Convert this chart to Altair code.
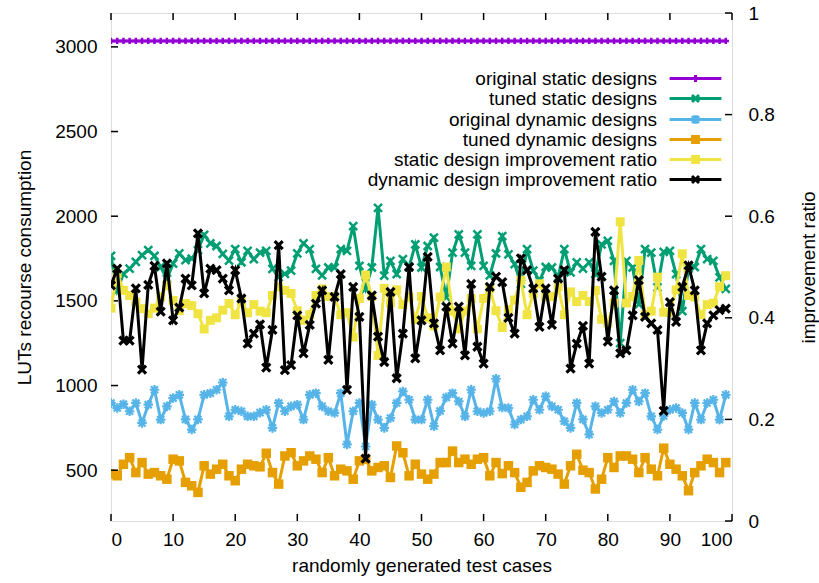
import altair as alt
import pandas as pd

idx = list(range(100))
series_names = ["original static designs", "tuned static designs", "original dynamic designs",
                "tuned dynamic designs", "static design improvement ratio", "dynamic design improvement ratio"]
colors = ["#9400d3", "#009e73", "#56b4e9", "#e69f00", "#f0e442", "#000000"]

x_ticks = [0, 10, 20, 30, 40, 50, 60, 70, 80, 90, 100]
left_ticks = [500, 1000, 1500, 2000, 2500, 3000]
right_ticks = [0, 0.2, 0.4, 0.6, 0.8, 1]

orig_static = [3035] * 100
tuned_static = [1766, 1560, 1660, 1690, 1730, 1770, 1800, 1766, 1700, 1630,
                1720, 1780, 1740, 1750, 1800, 1890, 1840, 1824, 1777, 1738,
                1806, 1728, 1795, 1746, 1785, 1795, 1689, 1640, 1660, 1678,
                1780, 1840, 1805, 1689, 1650, 1697, 1697, 1805, 1795, 1941,
                1707, 1570, 1697, 2049, 1649, 1736, 1658, 1746, 1700, 1834,
                1697, 1824, 1873, 1700, 1521, 1785, 1892, 1785, 1707, 1892,
                1707, 1650, 1780, 1883, 1775, 1717, 1600, 1805, 1678, 1620,
                1700, 1697, 1640, 1805, 1668, 1727, 1690, 1727, 1660, 1834,
                1854, 1736, 1250, 1736, 1697, 1480, 1805, 1785, 1580, 1790,
                1795, 1658, 1440, 1690, 1700, 1805, 1746, 1736, 1639, 1571]
orig_dynamic = [897, 867, 890, 848, 897, 779, 887, 975, 799, 877,
                926, 945, 800, 740, 800, 945, 955, 975, 1018, 818,
                857, 848, 818, 818, 840, 857, 750, 897, 848, 877,
                887, 799, 945, 955, 877, 848, 838, 955, 652, 848,
                897, 640, 887, 799, 750, 808, 897, 965, 916, 799,
                799, 916, 760, 850, 930, 955, 906, 818, 975, 848,
                838, 848, 1040, 870, 867, 770, 799, 818, 916, 857,
                936, 877, 857, 789, 750, 897, 800, 711, 877, 838,
                857, 906, 838, 897, 975, 906, 955, 818, 740, 820,
                857, 867, 838, 740, 897, 799, 897, 916, 799, 945]
tuned_dynamic = [477, 467, 535, 574, 486, 545, 477, 486, 467, 447,
                 565, 555, 428, 408, 369, 526, 477, 506, 535, 467,
                 438, 506, 535, 526, 520, 600, 486, 418, 584, 603,
                 526, 555, 584, 565, 486, 574, 467, 506, 496, 447,
                 555, 565, 496, 516, 526, 457, 643, 603, 467, 535,
                 477, 447, 477, 545, 545, 613, 545, 565, 535, 565,
                 574, 467, 545, 480, 526, 486, 399, 428, 496, 526,
                 516, 506, 477, 418, 526, 594, 500, 486, 389, 447,
                 574, 516, 584, 584, 565, 486, 574, 506, 467, 630,
                 535, 506, 467, 379, 486, 526, 565, 545, 486, 545]
static_ratio = [0.419, 0.487, 0.454, 0.444, 0.431, 0.418, 0.408, 0.419, 0.441, 0.464,
                0.434, 0.414, 0.428, 0.424, 0.408, 0.378, 0.395, 0.400, 0.415, 0.428,
                0.406, 0.432, 0.410, 0.426, 0.413, 0.410, 0.444, 0.461, 0.454, 0.448,
                0.414, 0.395, 0.406, 0.444, 0.457, 0.442, 0.442, 0.406, 0.410, 0.362,
                0.438, 0.484, 0.442, 0.326, 0.458, 0.429, 0.455, 0.426, 0.441, 0.397,
                0.442, 0.400, 0.384, 0.441, 0.500, 0.413, 0.378, 0.413, 0.438, 0.378,
                0.438, 0.457, 0.414, 0.381, 0.416, 0.435, 0.474, 0.406, 0.448, 0.467,
                0.441, 0.442, 0.461, 0.406, 0.451, 0.432, 0.444, 0.432, 0.454, 0.397,
                0.390, 0.429, 0.589, 0.429, 0.442, 0.513, 0.406, 0.413, 0.480, 0.411,
                0.410, 0.455, 0.526, 0.444, 0.441, 0.406, 0.426, 0.429, 0.461, 0.483]
dynamic_ratio = [0.464, 0.497, 0.355, 0.355, 0.458, 0.298, 0.465, 0.502, 0.412, 0.507,
                 0.395, 0.420, 0.477, 0.464, 0.566, 0.448, 0.497, 0.494, 0.477, 0.454,
                 0.494, 0.438, 0.349, 0.369, 0.387, 0.302, 0.376, 0.543, 0.297, 0.307,
                 0.405, 0.330, 0.386, 0.428, 0.454, 0.317, 0.441, 0.486, 0.258, 0.461,
                 0.402, 0.123, 0.444, 0.363, 0.313, 0.451, 0.281, 0.369, 0.500, 0.320,
                 0.395, 0.520, 0.389, 0.336, 0.422, 0.349, 0.422, 0.326, 0.467, 0.343,
                 0.310, 0.461, 0.481, 0.470, 0.400, 0.369, 0.517, 0.494, 0.458, 0.382,
                 0.458, 0.386, 0.477, 0.494, 0.300, 0.349, 0.384, 0.310, 0.569, 0.481,
                 0.353, 0.454, 0.330, 0.336, 0.405, 0.474, 0.402, 0.389, 0.376, 0.217,
                 0.431, 0.392, 0.461, 0.503, 0.454, 0.336, 0.389, 0.405, 0.415, 0.418]

all_values = [orig_static, tuned_static, orig_dynamic, tuned_dynamic, static_ratio, dynamic_ratio]

FONT = "Liberation Sans"
FS = 19
W, H = 621, 508

# marker shapes (gnuplot-like point types)
P_PLUS = "M0,-1V1M-1,0H1"
P_X = "M-1,-1L1,1M-1,1L1,-1"
P_STAR = "M-1,-1L1,1M-1,1L1,-1M0,-1.35V1.35M-1.35,0H1.35"
marker_spec = [
    dict(shape=P_PLUS, filled=False, size=40, strokeWidth=2.5),
    dict(shape=P_X, filled=False, size=64, strokeWidth=2.5),
    dict(shape=P_STAR, filled=False, size=50, strokeWidth=2.2),
    dict(shape="square", filled=True, size=90),
    dict(shape="square", filled=True, size=80),
    dict(shape=P_X, filled=False, size=64, strokeWidth=3.2),
]
# legend samples: a line with the marker in its middle
legend_paths = [
    "M-3.7,0H3.7M0,-0.5V0.5",
    "M-3.7,0H3.7M-0.5,-0.5L0.5,0.5M-0.5,0.5L0.5,-0.5",
    "M-3.7,0H3.7M-0.5,-0.5L0.5,0.5M-0.5,0.5L0.5,-0.5M0,-0.62V0.62",
    "M-3.7,0H3.7M-0.42,-0.42H0.42V0.42H-0.42Z",
    "M-3.7,0H3.7M-0.42,-0.42H0.42V0.42H-0.42Z",
    "M-3.7,0H3.7M-0.5,-0.5L0.5,0.5M-0.5,0.5L0.5,-0.5",
]

legend_def = alt.Legend(title=None, orient="none", legendX=575, legendY=56,
                        labelFontSize=FS, labelFont=FONT, labelColor="black",
                        labelAlign="right", labelOffset={"expr": "-48"}, labelLimit=0,
                        symbolSize=196, symbolStrokeWidth=3, symbolOpacity=1,
                        rowPadding=0, padding=0)
color_enc = alt.Color("series:N", scale=alt.Scale(domain=series_names, range=colors),
                      legend=legend_def)

x_enc = alt.X("i:Q", scale=alt.Scale(domain=[0, 100], nice=False, zero=False),
              axis=alt.Axis(values=x_ticks, format="d", ticks=False, tickSize=0, domain=False,
                            grid=False, labelFontSize=FS, labelFont=FONT, labelColor="black",
                            labelPadding=9, title="randomly generated test cases",
                            titleFontSize=FS, titleFont=FONT, titleFontWeight="normal",
                            titleColor="black", titlePadding=7))

left_axis = alt.Axis(values=left_ticks, format="d", ticks=False, tickSize=0, domain=False,
                     grid=False, labelFontSize=FS, labelFont=FONT, labelColor="black",
                     labelPadding=14, title="LUTs recourse consumption", titleFontSize=FS,
                     titleFont=FONT, titleFontWeight="normal", titleColor="black",
                     titleAngle=270, titleX=-87, titleY=H / 2, titleAlign="center",
                     titleBaseline="middle", orient="left")
right_axis = alt.Axis(values=right_ticks, format="~g", ticks=False, tickSize=0, domain=False,
                      grid=False, labelFontSize=FS, labelFont=FONT, labelColor="black",
                      labelPadding=16, title="improvement ratio", titleFontSize=FS,
                      titleFont=FONT, titleFontWeight="normal", titleColor="black",
                      titleAngle=270, titleX=76, titleY=H / 2, titleAlign="center",
                      titleBaseline="middle", orient="right")

left_scale = alt.Scale(domain=[200, 3200], nice=False, zero=False)
right_scale = alt.Scale(domain=[0, 1], nice=False, zero=False)


def series_layers(k, scale, axis):
    df = pd.DataFrame({"i": idx, "v": all_values[k], "series": series_names[k]})
    y_enc = alt.Y("v:Q", scale=scale, axis=axis)
    base = alt.Chart(df)
    line = base.mark_line(strokeWidth=3, clip=True).encode(x=x_enc, y=y_enc, color=color_enc)
    pts = base.mark_point(opacity=1, clip=True, **marker_spec[k]).encode(
        x=x_enc, y=y_enc, color=color_enc)
    return [line, pts]


left_layers = []
for k in range(4):
    left_layers += series_layers(k, left_scale, left_axis)

TK = 7
lt_df = pd.DataFrame({"v": left_ticks})
left_tick_marks = alt.Chart(lt_df).mark_rule(color="black", strokeWidth=1.5).encode(
    y=alt.Y("v:Q", scale=left_scale, axis=left_axis), x=alt.value(0), x2=alt.value(TK))
xt_df = pd.DataFrame({"i": x_ticks})
x_tick_marks = alt.Chart(xt_df).mark_rule(color="black", strokeWidth=1.5).encode(
    x=x_enc, y=alt.value(H - TK), y2=alt.value(H))
x_tick_marks_top = alt.Chart(xt_df).mark_rule(color="black", strokeWidth=1.5).encode(
    x=x_enc, y=alt.value(0), y2=alt.value(TK))
left_group = alt.layer(*left_layers, left_tick_marks, x_tick_marks, x_tick_marks_top)

right_layers = []
for k in range(4, 6):
    right_layers += series_layers(k, right_scale, right_axis)
rt_df = pd.DataFrame({"v": right_ticks})
right_tick_marks = alt.Chart(rt_df).mark_rule(color="black", strokeWidth=1.5).encode(
    y=alt.Y("v:Q", scale=right_scale, axis=right_axis), x=alt.value(W - TK), x2=alt.value(W))
right_group = alt.layer(*right_layers, right_tick_marks)

leg_df = pd.DataFrame({"series": series_names})
legend_layer = alt.Chart(leg_df).mark_point(opacity=0, filled=False, size=196, strokeWidth=3).encode(
    color=color_enc,
    shape=alt.Shape("series:N", scale=alt.Scale(domain=series_names, range=legend_paths),
                    legend=legend_def))

chart = alt.layer(left_group, right_group, legend_layer).resolve_scale(
    y="independent"
).properties(
    width=W, height=H,
    autosize=alt.AutoSizeParams(type="none"),
    padding={"left": 111, "top": 13, "right": 87, "bottom": 62},
    background="white",
).configure_view(stroke="black", strokeWidth=1.5).configure(font=FONT)

chart.save("out.html", embed_options={"renderer": "svg", "actions": False})
